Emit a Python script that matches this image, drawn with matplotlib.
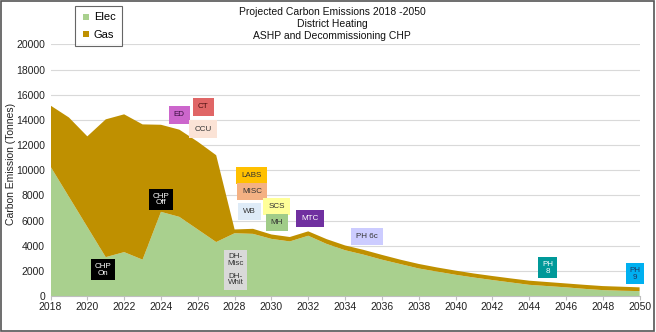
import matplotlib
matplotlib.use("Agg")
import matplotlib.pyplot as plt
from matplotlib.patches import Rectangle
from matplotlib.lines import Line2D

plt.rcParams['font.family'] = ['Liberation Sans', 'DejaVu Sans']

years = list(range(2018, 2051))
elec = [10300, 7900, 5500, 3100, 3500, 2900, 6700, 6300, 5300, 4300,
        5000, 4950, 4550, 4350, 4800, 4150, 3650, 3300, 2900, 2550,
        2200, 1950, 1700, 1480, 1280, 1090, 900, 800, 700, 580,
        480, 430, 400]
total = [15150, 14200, 12700, 14050, 14450, 13650, 13620, 13230, 12270, 11200,
         5300, 5350, 4900, 4700, 5150, 4530, 4030, 3680, 3280, 2900,
         2560, 2280, 2030, 1800, 1600, 1410, 1230, 1120, 1010, 900,
         800, 750, 700]
gas = [t - e for t, e in zip(total, elec)]

series_names = ["Elec", "Gas"]
series_colors = ["#A9D08E", "#BF9000"]

title_lines = ["Projected Carbon Emissions 2018 -2050", "District Heating",
               "ASHP and Decommissioning CHP"]
y_label = "Carbon Emission (Tonnes)"
x_ticks = list(range(2018, 2051, 2))
y_ticks = list(range(0, 20001, 2000))

# (text, year, value, face colour, text colour)
markers = [
    ("ED", 2025.0, 14400, "#CC66CC", "#3A1040"),
    ("CT", 2026.3, 15040, "#E06666", "#4A1010"),
    ("CCU", 2026.3, 13280, "#FBE3D6", "#333333"),
    ("CHP\nOff", 2024.0, 7680, "#000000", "#FFFFFF"),
    ("CHP\nOn", 2020.85, 2080, "#000000", "#FFFFFF"),
    ("LABS", 2028.9, 9600, "#FFC000", "#333333"),
    ("MISC", 2028.95, 8320, "#F4B183", "#333333"),
    ("WB", 2028.8, 6720, "#DEEBF7", "#333333"),
    ("SCS", 2030.3, 7120, "#FFFF99", "#333333"),
    ("MH", 2030.3, 5840, "#A0CC88", "#333333"),
    ("MTC", 2032.1, 6160, "#7030A0", "#FFFFFF"),
    ("DH-\nMisc", 2028.05, 2850, "#D9D9D9", "#333333"),
    ("DH-\nWhit", 2028.05, 1330, "#D9D9D9", "#333333"),
    ("PH 6c", 2035.2, 4720, "#CCCCFF", "#333333"),
    ("PH\n8", 2045.0, 2240, "#009999", "#FFFFFF"),
    ("PH\n9", 2049.75, 1760, "#00B0F0", "#1F3864"),
]

fig = plt.figure(figsize=(6.56, 3.32), dpi=100)
ax = fig.add_axes([0.077, 0.108, 0.898, 0.758])

ax.stackplot(years, elec, gas, colors=series_colors, linewidth=0)

ax.set_xlim(2018, 2050)
ax.set_ylim(0, 20000)
ax.set_xticks(x_ticks)
ax.set_yticks(y_ticks)
ax.tick_params(axis='both', labelsize=7.5, colors="#222222")
ax.tick_params(axis='y', length=0, pad=4)
ax.tick_params(axis='x', length=3, color="#BFBFBF", pad=1)
ax.grid(axis='y', color="#D9D9D9", linewidth=0.8)
ax.set_axisbelow(True)
for side in ("top", "right", "left"):
    ax.spines[side].set_visible(False)
ax.spines["bottom"].set_color("#BFBFBF")
ax.spines["bottom"].set_linewidth(0.8)

fig.text(0.017, 0.505, y_label, rotation=90, ha="center", va="center",
         fontsize=7.5, color="#222222")

fig.text(0.506, 0.98, "\n".join(title_lines), ha="center", va="top",
         fontsize=7.5, linespacing=1.3, color="#111111")

for text, x, y, fc, tc in markers:
    pad = 0.45 if "\n" in text else 0.65
    ax.text(x, y, text, ha="center", va="center", fontsize=5.8, color=tc,
            linespacing=0.95, zorder=5,
            bbox=dict(boxstyle=f"square,pad={pad}", fc=fc, ec="none"))

handles = [Line2D([], [], marker='s', linestyle='none', markersize=4,
                  markeredgewidth=0, color=c)
           for c in series_colors]
leg = fig.legend(handles, series_names, loc="upper left",
                 bbox_to_anchor=(0.114, 0.981), fontsize=8, frameon=True,
                 fancybox=False, edgecolor="#404040", handlelength=1.0,
                 handletextpad=0.15, borderpad=0.55, labelspacing=0.65,
                 borderaxespad=0)
leg.get_frame().set_linewidth(0.8)

fig.patches.append(Rectangle((0.002, 0.004), 0.995, 0.992,
                             transform=fig.transFigure, fill=False,
                             edgecolor="#555555", linewidth=1.2))

fig.savefig("out.png", dpi=100)
